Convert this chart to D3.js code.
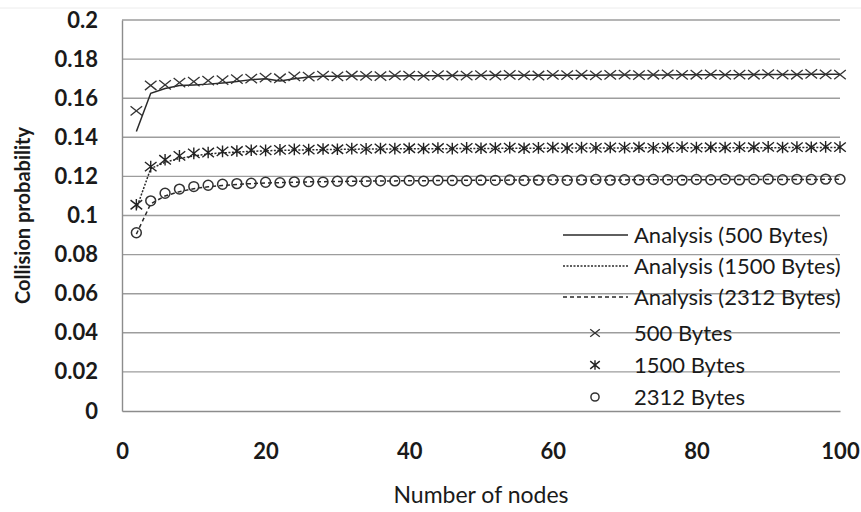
<!DOCTYPE html>
<html>
<head>
<meta charset="utf-8">
<script src="https://cdn.jsdelivr.net/npm/d3@7"></script>
<style>
  body { margin: 0; background: #fff; }
  text { font-family: Lato, "Open Sans", sans-serif; fill: #1a1a1a; }
</style>
</head>
<body>
<div id="chart"></div>
<script>
// nodes, step of 2 from 2 to 100
const nodes = d3.range(2, 101, 2);

const analysis500 = [0.1430,0.1625,0.1650,0.1665,0.1668,0.1672,0.1678,0.1685,0.1695,0.1700,
  0.1688,0.1700,0.1708,0.1712,0.1712,0.1713,0.1713,0.1714,0.1714,0.1715,
  0.1715,0.1715,0.1716,0.1716,0.1716,0.1717,0.1717,0.1717,0.1717,0.1718,
  0.1718,0.1718,0.1718,0.1719,0.1719,0.1719,0.1719,0.1719,0.1720,0.1720,
  0.1720,0.1720,0.1720,0.1721,0.1721,0.1721,0.1721,0.1722,0.1722,0.1722];

const analysis1500 = [0.1035,0.1240,0.1272,0.1292,0.1305,0.1315,0.1320,0.1325,0.1328,0.1331,
  0.1333,0.1335,0.1336,0.1337,0.1338,0.1339,0.1340,0.1340,0.1341,0.1341,
  0.1342,0.1342,0.1342,0.1343,0.1343,0.1343,0.1344,0.1344,0.1344,0.1344,
  0.1345,0.1345,0.1345,0.1345,0.1345,0.1346,0.1346,0.1346,0.1346,0.1346,
  0.1347,0.1347,0.1347,0.1347,0.1347,0.1347,0.1348,0.1348,0.1348,0.1348];

const analysis2312 = [0.0905,0.1060,0.1100,0.1122,0.1137,0.1147,0.1154,0.1159,0.1163,0.1166,
  0.1168,0.1170,0.1172,0.1173,0.1174,0.1175,0.1176,0.1177,0.1177,0.1178,
  0.1178,0.1179,0.1179,0.1180,0.1180,0.1180,0.1181,0.1181,0.1181,0.1181,
  0.1182,0.1182,0.1182,0.1182,0.1182,0.1183,0.1183,0.1183,0.1183,0.1183,
  0.1183,0.1184,0.1184,0.1184,0.1184,0.1184,0.1184,0.1184,0.1185,0.1185];

const sim500 = [0.1535,0.1665,0.1668,0.1680,0.1685,0.1690,0.1692,0.1698,0.1700,0.1705,
  0.1702,0.1712,0.1710,0.1715,0.1712,0.1716,0.1714,0.1713,0.1717,0.1715,
  0.1714,0.1718,0.1716,0.1715,0.1718,0.1716,0.1719,0.1717,0.1716,0.1719,
  0.1718,0.1720,0.1717,0.1719,0.1721,0.1718,0.1720,0.1722,0.1719,0.1720,
  0.1722,0.1719,0.1721,0.1720,0.1723,0.1721,0.1720,0.1724,0.1722,0.1721];

const sim1500 = [0.1055,0.1250,0.1285,0.1305,0.1318,0.1322,0.1328,0.1330,0.1334,0.1333,
  0.1336,0.1338,0.1337,0.1340,0.1339,0.1342,0.1341,0.1343,0.1342,0.1344,
  0.1343,0.1345,0.1342,0.1346,0.1344,0.1345,0.1347,0.1344,0.1346,0.1348,
  0.1345,0.1347,0.1346,0.1348,0.1347,0.1349,0.1346,0.1348,0.1350,0.1347,
  0.1349,0.1348,0.1350,0.1349,0.1351,0.1348,0.1350,0.1349,0.1351,0.1350];

const sim2312 = [0.0912,0.1075,0.1114,0.1135,0.1148,0.1155,0.1160,0.1163,0.1165,0.1170,
  0.1168,0.1172,0.1173,0.1171,0.1175,0.1176,0.1174,0.1178,0.1177,0.1179,
  0.1176,0.1180,0.1179,0.1178,0.1181,0.1180,0.1182,0.1179,0.1181,0.1183,
  0.1180,0.1182,0.1184,0.1181,0.1183,0.1182,0.1184,0.1183,0.1181,0.1184,
  0.1183,0.1185,0.1182,0.1184,0.1186,0.1183,0.1185,0.1184,0.1186,0.1185];

const xTicks = [0, 20, 40, 60, 80, 100];
const yTicks = [0, 0.02, 0.04, 0.06, 0.08, 0.1, 0.12, 0.14, 0.16, 0.18, 0.2];

const lineSeries = [
  { name: "Analysis (500 Bytes)", values: analysis500, dash: null },
  { name: "Analysis (1500 Bytes)", values: analysis1500, dash: "2,1.5" },
  { name: "Analysis (2312 Bytes)", values: analysis2312, dash: "4,3" }
];
const markerSeries = [
  { name: "500 Bytes", values: sim500, shape: "x" },
  { name: "1500 Bytes", values: sim1500, shape: "star" },
  { name: "2312 Bytes", values: sim2312, shape: "circle" }
];

const width = 861, height = 512;
const margin = { top: 20, right: 21, bottom: 101, left: 122 };

const svg = d3.select("#chart").append("svg")
  .attr("width", width)
  .attr("height", height);

// faint frame line at the top of the picture
svg.append("line")
  .attr("x1", 0).attr("x2", width)
  .attr("y1", 8).attr("y2", 8)
  .attr("stroke", "#ececec");

const x = d3.scaleLinear().domain([0, 100]).range([margin.left, width - margin.right]);
const y = d3.scaleLinear().domain([0, 0.2]).range([height - margin.bottom, margin.top]);

// gridlines
svg.append("g")
  .selectAll("line")
  .data(yTicks.filter(d => d > 0))
  .enter().append("line")
    .attr("x1", x(0)).attr("x2", x(100))
    .attr("y1", d => y(d)).attr("y2", d => y(d))
    .attr("stroke", "#9d9d9d")
    .attr("stroke-width", 1.4);

// axes
const xAxis = svg.append("g")
  .attr("transform", `translate(0,${y(0)})`)
  .call(d3.axisBottom(x).tickValues(xTicks).tickSize(0).tickPadding(32).tickFormat(d3.format("d")));
xAxis.select(".domain").attr("stroke", "#8c8c8c").attr("stroke-width", 1.4);
xAxis.selectAll("text")
  .style("font-size", "22px").style("font-weight", "bold").attr("fill", "#1a1a1a");

const yAxis = svg.append("g")
  .attr("transform", `translate(${x(0)},0)`)
  .call(d3.axisLeft(y).tickValues(yTicks).tickSize(0).tickPadding(24).tickFormat(d => d === 0 ? "0" : String(+d.toFixed(2))));
yAxis.select(".domain").attr("stroke", "#8c8c8c").attr("stroke-width", 1.4);
yAxis.selectAll("text")
  .style("font-size", "22px").style("font-weight", "bold").attr("fill", "#1a1a1a");

// analysis lines
const line = d3.line()
  .x((d, i) => x(nodes[i]))
  .y(d => y(d));

lineSeries.forEach(s => {
  svg.append("path")
    .datum(s.values)
    .attr("d", line)
    .attr("fill", "none")
    .attr("stroke", "#2a2a2a")
    .attr("stroke-width", 1.5)
    .attr("stroke-dasharray", s.dash);
});

// marker drawing
function drawMarker(g, shape, r) {
  if (shape === "x") {
    g.append("path")
      .attr("d", `M${-r},${-r * 0.8}L${r},${r * 0.8}M${-r},${r * 0.8}L${r},${-r * 0.8}`)
      .attr("stroke", "#333").attr("stroke-width", 1.3).attr("fill", "none");
  } else if (shape === "star") {
    g.append("path")
      .attr("d", `M${-r},${-r * 0.8}L${r},${r * 0.8}M${-r},${r * 0.8}L${r},${-r * 0.8}M0,${-r}L0,${r}`)
      .attr("stroke", "#222").attr("stroke-width", 1.4).attr("fill", "none");
  } else {
    g.append("circle")
      .attr("r", r * 0.85)
      .attr("stroke", "#333").attr("stroke-width", 1.5).attr("fill", "none");
  }
}

markerSeries.forEach(s => {
  s.values.forEach((v, i) => {
    const g = svg.append("g")
      .attr("transform", `translate(${x(nodes[i])},${y(v)})`);
    drawMarker(g, s.shape, 5.8);
  });
});

// legend
const legend = svg.append("g");
const legendY = [235, 266, 297, 333, 365, 397];

lineSeries.forEach((s, i) => {
  legend.append("line")
    .attr("x1", 563).attr("x2", 628)
    .attr("y1", legendY[i]).attr("y2", legendY[i])
    .attr("stroke", "#2a2a2a")
    .attr("stroke-width", 1.4)
    .attr("stroke-dasharray", s.dash);
  legend.append("text")
    .attr("x", 634).attr("y", legendY[i])
    .attr("dy", "0.35em")
    .style("font-size", "22px")
    .text(s.name);
});

markerSeries.forEach((s, i) => {
  const g = legend.append("g")
    .attr("transform", `translate(595,${legendY[i + 3]})`);
  drawMarker(g, s.shape, 4.8);
  legend.append("text")
    .attr("x", 634).attr("y", legendY[i + 3])
    .attr("dy", "0.35em")
    .style("font-size", "22px")
    .text(s.name);
});

// axis titles
svg.append("text")
  .attr("x", (x(0) + x(100)) / 2)
  .attr("y", 495)
  .attr("dy", "0.35em")
  .attr("text-anchor", "middle")
  .style("font-size", "23px")
  .text("Number of nodes");

svg.append("text")
  .attr("transform", "rotate(-90)")
  .attr("x", -(y(0) + y(0.2)) / 2)
  .attr("y", 23)
  .attr("dy", "0.35em")
  .attr("text-anchor", "middle")
  .style("font-size", "20px")
  .style("font-weight", "bold")
  .text("Collision probability");
</script>
</body>
</html>
